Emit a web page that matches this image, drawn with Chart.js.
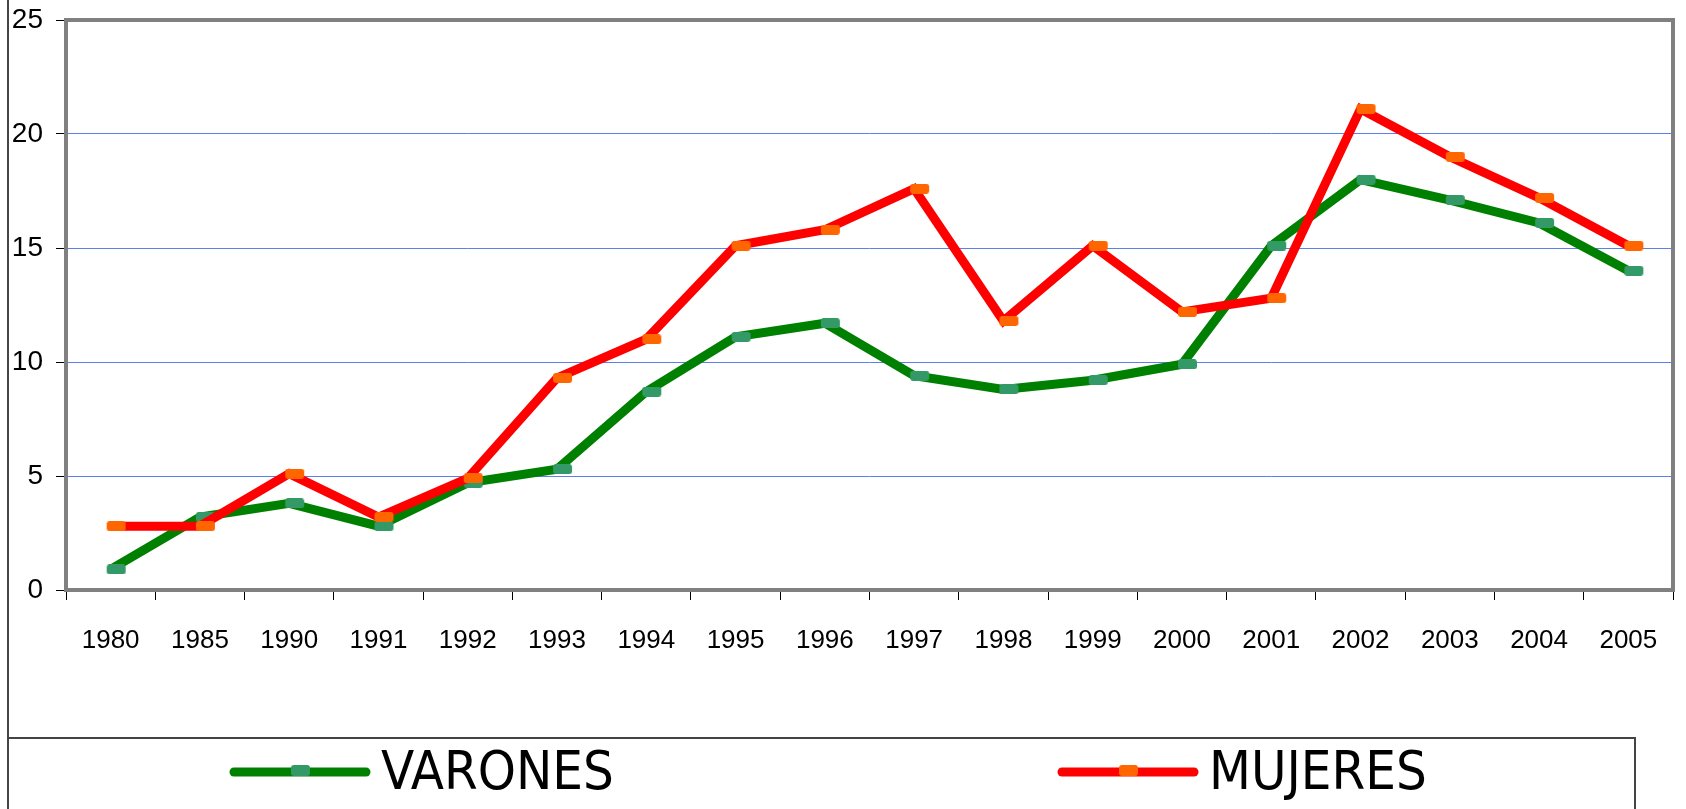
<!doctype html>
<html lang="es">
<head>
  <meta charset="utf-8">
  <title>Varones / Mujeres</title>
  <script src="https://cdn.jsdelivr.net/npm/chart.js"></script>
  <style>
    body { margin: 0; background: #fff; }
    canvas { display: block; }
  </style>
</head>
<body>
  <canvas id="line-chart" width="1686" height="809"></canvas>

<script>
// data
var years = ['1980', '1985', '1990', '1991', '1992', '1993', '1994', '1995', '1996',
             '1997', '1998', '1999', '2000', '2001', '2002', '2003', '2004', '2005'];
var varones = [0.9, 3.2, 3.8, 2.8, 4.7, 5.3, 8.7, 11.1, 11.7,
               9.4, 8.8, 9.2, 9.9, 15.1, 18.0, 17.1, 16.1, 14.0];
var mujeres = [2.8, 2.8, 5.1, 3.2, 4.9, 9.3, 11.0, 15.1, 15.8,
               17.6, 11.8, 15.1, 12.2, 12.8, 21.1, 19.0, 17.2, 15.1];
var yTicks = [0, 5, 10, 15, 20, 25];

var narrow = '"Liberation Sans Narrow", "DejaVu Sans Condensed", "Liberation Sans", Arial, sans-serif';

// small rounded rectangle used as point marker (sits a bit right of the vertex)
function marker(color) {
  var c = document.createElement('canvas');
  c.width = 32;
  c.height = 10;
  var ctx = c.getContext('2d');
  ctx.fillStyle = color;
  ctx.beginPath();
  ctx.roundRect(12, 0, 19, 10, 3);
  ctx.fill();
  return c;
}
var greenMarker = marker('#339966');
var redMarker = marker('#ff6600');

// plot frame, outer lines and the legend box
var framePlugin = {
  id: 'frame',
  afterDraw: function(chart) {
    var ctx = chart.ctx;
    var a = chart.chartArea;
    ctx.save();
    ctx.strokeStyle = '#808080';
    ctx.lineWidth = 4;
    ctx.strokeRect(a.left, a.top, a.right - a.left, a.bottom - a.top);

    ctx.strokeStyle = '#444';
    ctx.lineWidth = 2;
    ctx.beginPath();
    ctx.moveTo(8, 0);
    ctx.lineTo(8, 809);
    ctx.moveTo(8, 738);
    ctx.lineTo(1635, 738);
    ctx.lineTo(1635, 809);
    ctx.stroke();

    var items = [
      { x: 234, ds: chart.data.datasets[0] },
      { x: 1062, ds: chart.data.datasets[1] }
    ];
    items.forEach(function(it) {
      ctx.strokeStyle = it.ds.borderColor;
      ctx.lineWidth = 9;
      ctx.lineCap = 'round';
      ctx.beginPath();
      ctx.moveTo(it.x, 772);
      ctx.lineTo(it.x + 132, 772);
      ctx.stroke();
      ctx.fillStyle = it.ds.backgroundColor;
      ctx.beginPath();
      ctx.roundRect(it.x + 57, 765, 19, 11, 3);
      ctx.fill();
      ctx.fillStyle = '#000';
      ctx.font = '54px ' + narrow;
      ctx.textBaseline = 'alphabetic';
      ctx.fillText(it.ds.label, it.x + 147, 789);
    });
    ctx.restore();
  }
};

new Chart(document.getElementById('line-chart'), {
  type: 'line',
  data: {
    labels: years,
    datasets: [{
      label: 'VARONES',
      data: varones,
      borderColor: '#008000',
      backgroundColor: '#339966',
      borderWidth: 9,
      pointStyle: greenMarker,
      order: 1,
      fill: false
    },
    {
      label: 'MUJERES',
      data: mujeres,
      borderColor: '#ff0000',
      backgroundColor: '#ff6600',
      borderWidth: 9,
      pointStyle: redMarker,
      order: 0,
      fill: false
    }]
  },
  options: {
    responsive: false,
    animation: false,
    devicePixelRatio: 1,
    layout: { padding: { top: 20, right: 6, left: 0, bottom: 0 } },
    plugins: {
      legend: { display: false },
      tooltip: { enabled: false }
    },
    scales: {
      x: {
        offset: true,
        grid: { offset: true, drawOnChartArea: false, tickColor: '#000', tickLength: 10 },
        border: { display: false },
        ticks: {
          color: '#000',
          padding: 25,
          maxRotation: 0,
          font: { family: '"Liberation Sans", Arial, sans-serif', size: 26 }
        },
        afterFit: function(s) {
          s.height = 219;
          s.paddingLeft = 0;
          s.paddingRight = 0;
        }
      },
      y: {
        min: 0,
        max: 25,
        afterBuildTicks: function(s) {
          s.ticks = yTicks.map(function(v) { return { value: v }; });
        },
        grid: { color: '#5b7fef', lineWidth: 1, tickColor: '#000', tickLength: 10 },
        border: { display: false },
        ticks: {
          color: '#000',
          padding: 13,
          font: { family: '"Liberation Sans", Arial, sans-serif', size: 28 }
        },
        afterFit: function(s) {
          s.width = 66;
          s.paddingTop = 0;
          s.paddingBottom = 0;
        }
      }
    }
  },
  plugins: [framePlugin]
});
</script>
</body>
</html>
